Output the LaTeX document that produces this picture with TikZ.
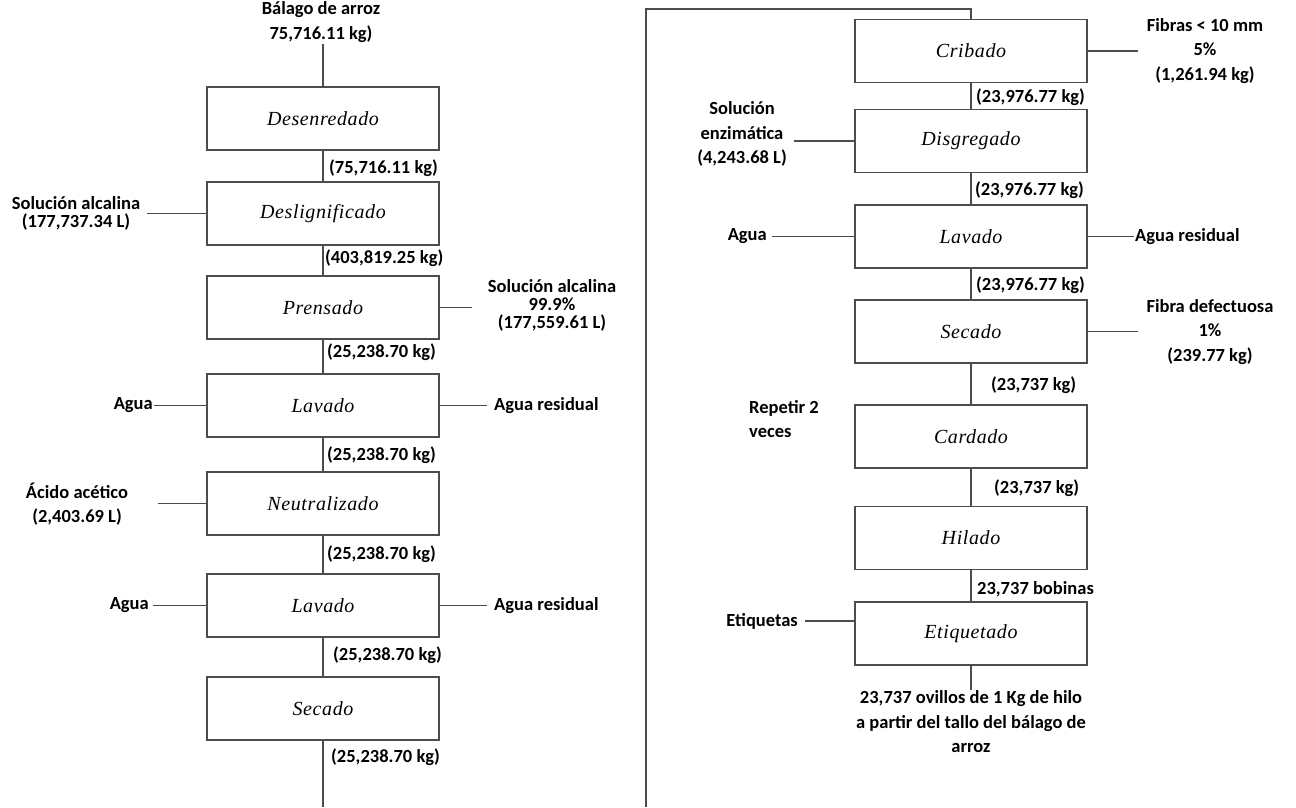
\documentclass[tikz,border=0pt]{standalone}
\usepackage{fontspec}
\setmainfont{Liberation Serif}
\newfontfamily\lblfamily{Carlito}
\newfontfamily\procfamily[LetterSpace=3]{Liberation Serif}
\begin{document}
\begin{tikzpicture}[x=1pt,y=-1pt,
  proc/.style={draw=black!70, line width=1.6pt, minimum width=232pt, minimum height=63pt,
    inner sep=0pt, font=\procfamily\fontsize{20}{22}\selectfont\itshape},
  lbl/.style={font=\lblfamily\bfseries\fontsize{18.5}{24.5}\selectfont, align=center, inner sep=1pt},
  tight/.style={font=\lblfamily\bfseries\fontsize{18.5}{18}\selectfont},
  flow/.style={lbl, anchor=west},
  conn/.style={draw=black!70, line width=1.3pt}]
\useasboundingbox (0,0) rectangle (1296,807);

% ---------- left column ----------
\node[lbl] (balago) at (321,22) {Bálago de arroz\\75,716.11 kg)};
\node[proc] (desen) at (323,118.5) {Desenredado};
\node[proc] (deslig) at (323,213.5) {Deslignificado};
\node[proc] (prens) at (323,307.5) {Prensado};
\node[proc] (lavA) at (323,405.5) {Lavado};
\node[proc] (neutr) at (323,503.5) {Neutralizado};
\node[proc] (lavB) at (323,605.5) {Lavado};
\node[proc] (secA) at (323,708.5) {Secado};

\node[flow] (fA) at (328,168) {(75,716.11 kg)};
\node[flow] (fB) at (324,258) {(403,819.25 kg)};
\node[flow] (fC) at (326,352) {(25,238.70 kg)};
\node[flow] (fD) at (326,455) {(25,238.70 kg)};
\node[flow] (fE) at (326,554) {(25,238.70 kg)};
\node[flow] (fF) at (332,655) {(25,238.70 kg)};
\node[flow] (fG) at (330,757) {(25,238.70 kg)};

\node[lbl,tight] (solA) at (76,213) {Solución alcalina\\(177,737.34 L)};
\node[lbl,tight] (solB) at (552,305) {Solución alcalina\\99.9\%\\(177,559.61 L)};
\node[lbl,anchor=east] (aguaA) at (154,405.5) {Agua};
\node[lbl,anchor=west] (resA) at (493,405.5) {Agua residual};
\node[lbl] (acido) at (77,504) {Ácido acético\\(2,403.69 L)};
\node[lbl,anchor=east] (aguaB) at (150,605.5) {Agua};
\node[lbl,anchor=west] (resB) at (493,605.5) {Agua residual};

\coordinate (lend) at (323,807);

\draw[conn] (desen.north |- balago.south) -- (desen.north);
\draw[conn] (desen.south) -- (deslig.north);
\draw[conn] (deslig.south) -- (prens.north);
\draw[conn] (prens.south) -- (lavA.north);
\draw[conn] (lavA.south) -- (neutr.north);
\draw[conn] (neutr.south) -- (lavB.north);
\draw[conn] (lavB.south) -- (secA.north);
\draw[conn] (secA.south) -- (lend);

\draw[conn] ([xshift=6pt]solA.east |- deslig.west) -- (deslig.west);
\draw[conn] (prens.east) -- ++(32,0) coordinate (solBend);
\draw[conn] (aguaA.east) -- (lavA.west);
\draw[conn] (lavA.east) -- ([xshift=-6pt]resA.west);
\draw[conn] (158,503.5) coordinate (acidoend) -- (neutr.west);
\draw[conn] ([xshift=3pt]aguaB.east) -- (lavB.west);
\draw[conn] (lavB.east) -- ([xshift=-6pt]resB.west);

% ---------- right column ----------
\node[proc] (crib) at (971,51) {Cribado};
\node[proc] (disg) at (971,141) {Disgregado};
\node[proc] (lavC) at (971,236.5) {Lavado};
\node[proc] (secB) at (971,331.5) {Secado};
\node[proc] (card) at (971,436.5) {Cardado};
\node[proc] (hil) at (971,538) {Hilado};
\node[proc] (etiq) at (971,633.5) {Etiquetado};

\node[flow] (gA) at (975,97) {(23,976.77 kg)};
\node[flow] (gB) at (974,190) {(23,976.77 kg)};
\node[flow] (gC) at (975,285) {(23,976.77 kg)};
\node[flow] (gD) at (990,385) {(23,737 kg)};
\node[flow] (gE) at (993,488) {(23,737 kg)};
\node[flow] (gF) at (976,589) {23,737 bobinas};

\node[lbl] (fibras) at (1205,51) {Fibras < 10 mm\\5\%\\(1,261.94 kg)};
\node[lbl] (enzim) at (742,134) {Solución\\enzimática\\(4,243.68 L)};
\node[lbl,anchor=east] (aguaC) at (768,236.5) {Agua};
\node[lbl,anchor=west] (resC) at (1134,236.5) {Agua residual};
\node[lbl] (defect) at (1210,332) {Fibra defectuosa\\1\%\\(239.77 kg)};
\node[lbl,align=left] (repet) at (784,419) {Repetir 2\\veces};
\node[lbl,anchor=east] (etqlbl) at (799,621) {Etiquetas};
\node[lbl] (final) at (971,722) {23,737 ovillos de 1 Kg de hilo\\a partir del tallo del bálago de\\arroz};

\coordinate (rstart) at (646,807);
\coordinate (rtop) at (646,9);

\draw[conn] (rstart) -- (rtop) -| (crib.north);
\draw[conn] (crib.south) -- (disg.north);
\draw[conn] (disg.south) -- (lavC.north);
\draw[conn] (lavC.south) -- (secB.north);
\draw[conn] (secB.south) -- (card.north);
\draw[conn] (card.south) -- (hil.north);
\draw[conn] (hil.south) -- (etiq.north);
\draw[conn] (etiq.south) -- (final.north);

\draw[conn] (crib.east) -- ++(50,0) coordinate (fibend);
\draw[conn] ([xshift=6pt]enzim.east |- disg.west) -- (disg.west);
\draw[conn] ([xshift=4pt]aguaC.east) -- (lavC.west);
\draw[conn] (lavC.east) -- (resC.west);
\draw[conn] (secB.east) -- ++(50,0) coordinate (defend);
\draw[conn] ([xshift=6pt]etqlbl.east) -- (etqlbl.east -| etiq.west);
\end{tikzpicture}
\end{document}
